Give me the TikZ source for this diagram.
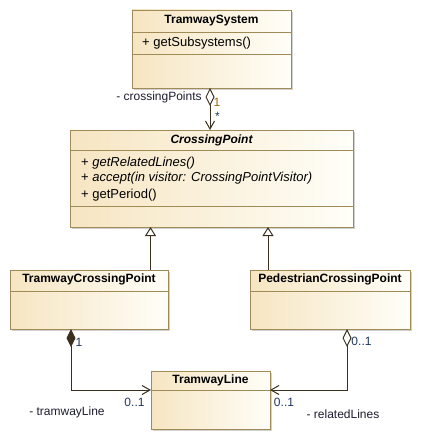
\documentclass[tikz,border=0pt]{standalone}
\usepackage{fontspec}
\setmainfont{Liberation Sans}
\usetikzlibrary{arrows.meta}
\usetikzlibrary{shadows}

\definecolor{clsborder}{HTML}{A08A55}
\definecolor{clsleft}{HTML}{F6E5C2}
\definecolor{clsright}{HTML}{FFFEF8}
\definecolor{linkcol}{HTML}{3B2F1E}
\definecolor{multcol}{HTML}{1E3560}
\definecolor{rolecol}{HTML}{1C1C2E}
\definecolor{topmult}{HTML}{9A6416}

\begin{document}
\begin{tikzpicture}[x=1pt, y=-1pt, font=\fontsize{12}{14}\selectfont,
    umlclass/.style={rectangle, draw=clsborder, line width=0.9pt, left color=clsleft, right color=clsright,
      inner sep=0pt, outer sep=0pt, anchor=north west,
      drop shadow={shadow xshift=2pt, shadow yshift=-2pt, fill=black!30, opacity=0.6}},
    ctitle/.style={inner sep=0pt, font=\fontsize{12}{14}\selectfont\bfseries},
    member/.style={inner sep=0pt, anchor=west, align=left, font=\fontsize{13}{15}\selectfont},
    sep/.style={draw=clsborder, line width=0.9pt},
    link/.style={draw=linkcol, line width=1pt},
    gener/.style={link, -{Triangle[open, length=9pt, width=11pt]}},
    aggr/.style={link, {Diamond[open, length=18pt, width=9pt]}-{Straight Barb[length=8pt, width=9pt]}},
    compo/.style={link, {Diamond[length=18pt, width=9pt]}-{Straight Barb[length=8pt, width=9pt]}},
    mult/.style={inner sep=0pt, text=multcol},
    role/.style={inner sep=0pt, text=rolecol}]
  \useasboundingbox (0,0) rectangle (421,444);

  % classes
  \node[umlclass, minimum width=159pt, minimum height=78pt] (ts) at (132,10) {};
  \node[ctitle] (tstitle) at ([yshift=-11pt]ts.north) {TramwaySystem};
  \draw[sep] ([yshift=-22pt]ts.north west) -- ([yshift=-22pt]ts.north east);
  \node[member] (tsops) at ([xshift=10pt, yshift=-33pt]ts.north west) {+ getSubsystems()};
  \draw[sep] ([yshift=-44pt]ts.north west) -- ([yshift=-44pt]ts.north east);

  \node[umlclass, minimum width=283pt, minimum height=97pt] (cp) at (70,130) {};
  \node[ctitle, font=\fontsize{12}{14}\selectfont\bfseries\itshape] (cptitle) at ([yshift=-10pt]cp.north) {CrossingPoint};
  \draw[sep] ([yshift=-20pt]cp.north west) -- ([yshift=-20pt]cp.north east);
  \node[member] (cpop1) at ([xshift=11pt, yshift=-32.7pt]cp.north west) {+ \textit{getRelatedLines()}};
  \node[member] (cpop2) at ([xshift=11pt, yshift=-48pt]cp.north west) {+ \textit{accept(in visitor: CrossingPointVisitor)}};
  \node[member] (cpop3) at ([xshift=11pt, yshift=-65pt]cp.north west) {+ getPeriod()};
  \draw[sep] ([yshift=-76pt]cp.north west) -- ([yshift=-76pt]cp.north east);

  \node[umlclass, minimum width=158pt, minimum height=59pt] (tcp) at (10,270) {};
  \node[ctitle] (tcptitle) at ([yshift=-9.5pt]tcp.north) {TramwayCrossingPoint};
  \draw[sep] ([yshift=-21pt]tcp.north west) -- ([yshift=-21pt]tcp.north east);

  \node[umlclass, minimum width=160pt, minimum height=59pt] (pcp) at (250,270) {};
  \node[ctitle] (pcptitle) at ([yshift=-9.5pt]pcp.north) {PedestrianCrossingPoint};
  \draw[sep] ([yshift=-21pt]pcp.north west) -- ([yshift=-21pt]pcp.north east);

  \node[umlclass, minimum width=119pt, minimum height=58pt] (tl) at (151,371) {};
  \node[ctitle] (tltitle) at ([yshift=-9pt]tl.north) {TramwayLine};
  \draw[sep] ([yshift=-19pt]tl.north west) -- ([yshift=-19pt]tl.north east);

  % associations
  \draw[aggr] ([xshift=-1.5pt]ts.south) -- ([xshift=-1.5pt]ts.south |- cp.north);
  \draw[gener] ([xshift=-17.5pt]tcp.north east) -- ([xshift=-17.5pt]tcp.north east |- cp.south);
  \draw[gener] ([xshift=18pt]pcp.north west) -- ([xshift=18pt]pcp.north west |- cp.south);
  \draw[compo] ([xshift=61pt]tcp.south west) |- ([yshift=-19pt]tl.north west);
  \draw[aggr] ([xshift=97pt]pcp.south west) |- ([yshift=-19pt]tl.north east);

  % multiplicities and roles
  \node[role] (cprole) at (159,97.5) {- crossingPoints};
  \node[mult, text=topmult] (tsmult) at (217,102) {1};
  \node[mult] (cpmult) at (217.5,116) {*};
  \node[mult] (tcpmult) at (79,342) {1};
  \node[mult] (tlmult1) at (134.5,402) {0..1};
  \node[role] (tlrole1) at (67,412) {- tramwayLine};
  \node[mult] (pcpmult) at (361.5,341.5) {0..1};
  \node[mult] (tlmult2) at (284,402) {0..1};
  \node[role] (tlrole2) at (343,414) {- relatedLines};
\end{tikzpicture}
\end{document}
